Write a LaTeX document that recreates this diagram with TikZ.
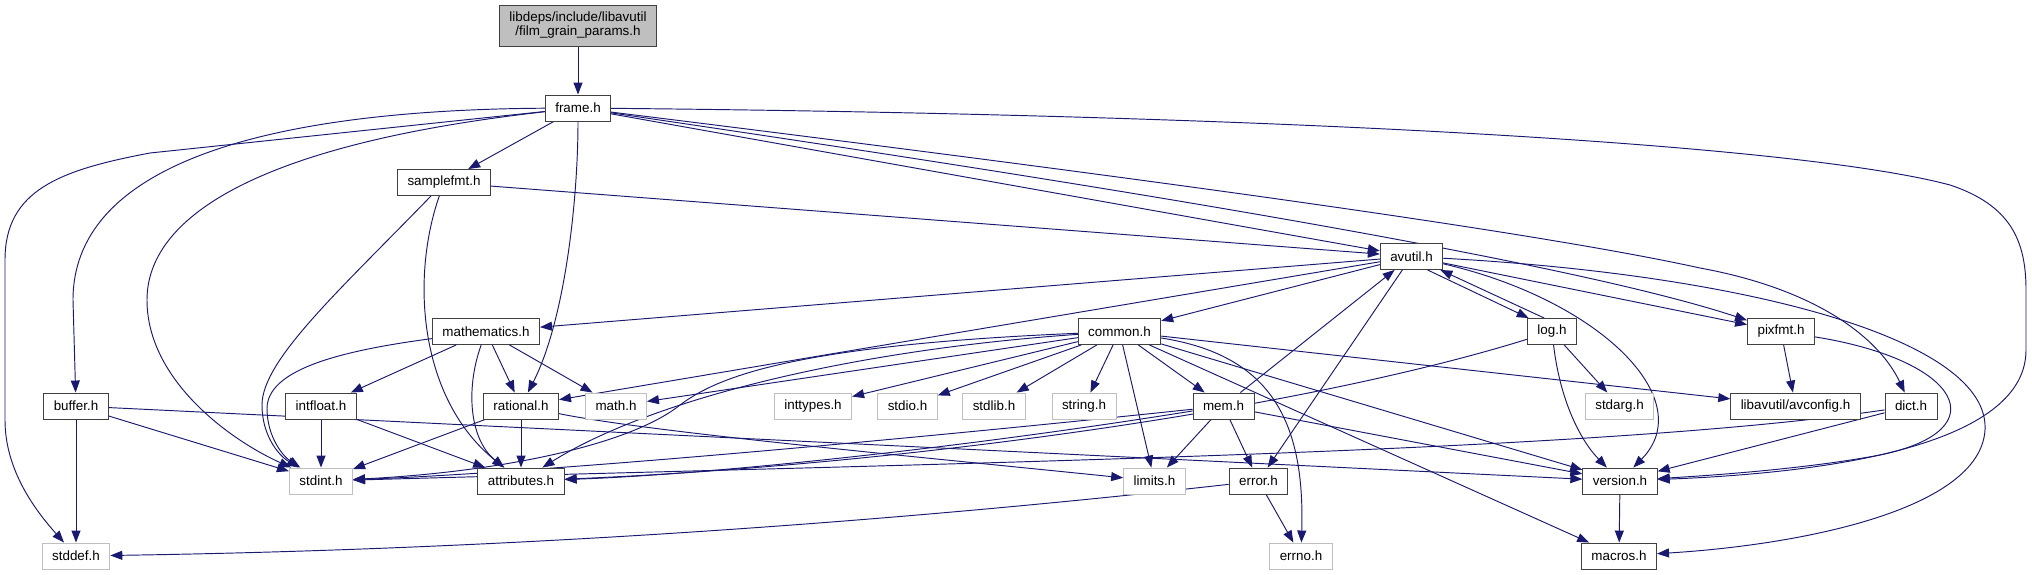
\documentclass[tikz,border=0pt]{standalone}
\usepackage{fontspec}
\setmainfont{Liberation Sans}
\usetikzlibrary{arrows.meta,backgrounds}
\definecolor{bleunuit}{HTML}{191970}
\definecolor{grisclair}{HTML}{BFBFBF}
\definecolor{grisfonce}{HTML}{404040}
\begin{document}
\begin{tikzpicture}[x=1pt,y=-1pt]
			\tikzstyle{fichier}=[draw=grisfonce,line width=0.9pt,fill=white,minimum height=26pt,inner xsep=10pt,inner ysep=0pt,font=\fontsize{13.4}{14}\selectfont]
			\tikzstyle{systeme}=[fichier,draw=grisclair]
			\tikzstyle{racine}=[fichier,fill=grisclair,align=center,minimum height=41pt]
			\tikzstyle{fleche}=[-{Triangle[length=12pt,width=9pt]},draw=bleunuit,line width=0.95pt]
			\def\RangA{25.5}
			\def\RangB{108}
			\def\RangC{182.5}
			\def\RangD{256.5}
			\def\RangE{331.5}
			\def\RangF{406}
			\def\RangG{481}
			\def\RangH{556}
			\useasboundingbox (0,0) rectangle (2032,575);
			% niveaux du graphe
			\node[racine] (film) at (578,\RangA) {libdeps/include/libavutil\\/film\_grain\_params.h};
			\node[fichier] (frame) at (578,\RangB) {frame.h};
			\node[fichier] (samplefmt) at (444,\RangC) {samplefmt.h};
			\node[fichier] (avutil) at (1411.5,\RangD) {avutil.h};
			\node[fichier] (mathematics) at (486,\RangE) {mathematics.h};
			\node[fichier] (common) at (1119.5,\RangE) {common.h};
			\node[fichier] (log) at (1552,\RangE) {log.h};
			\node[fichier] (pixfmt) at (1781,\RangE) {pixfmt.h};
			\node[fichier] (buffer) at (76,\RangF) {buffer.h};
			\node[fichier] (intfloat) at (321,\RangF) {intfloat.h};
			\node[fichier] (rational) at (521,\RangF) {rational.h};
			\node[systeme] (mathh) at (616,\RangF) {math.h};
			\node[systeme] (inttypes) at (813,\RangF) {inttypes.h};
			\node[systeme] (stdio) at (907.5,\RangF) {stdio.h};
			\node[systeme] (stdlib) at (994,\RangF) {stdlib.h};
			\node[systeme] (string) at (1084,\RangF) {string.h};
			\node[fichier] (mem) at (1223.5,\RangF) {mem.h};
			\node[systeme] (stdarg) at (1619.5,\RangF) {stdarg.h};
			\node[fichier] (avconfig) at (1795.5,\RangF) {libavutil/avconfig.h};
			\node[fichier] (dict) at (1911,\RangF) {dict.h};
			\node[systeme] (stdint) at (321,\RangG) {stdint.h};
			\node[fichier] (attributes) at (521,\RangG) {attributes.h};
			\node[systeme] (limits) at (1154.5,\RangG) {limits.h};
			\node[fichier] (error) at (1258.5,\RangG) {error.h};
			\node[fichier] (version) at (1620,\RangG) {version.h};
			\node[systeme] (stddef) at (76,\RangH) {stddef.h};
			\node[systeme] (errno) at (1301,\RangH) {errno.h};
			\node[fichier] (macros) at (1619,\RangH) {macros.h};
			\begin{scope}[on background layer]
			% film_grain_params.h et frame.h
			\draw[fleche] (film)--(frame);
			\draw[fleche] (frame)--(samplefmt);
			\draw[fleche] (frame)--(150,153) .. controls (60,170) and (5,190) .. (5,260)--(5,420) .. controls (5,470) and (35,510) .. (stddef);
			\draw[fleche] (frame) .. controls (250,110) and (73,170) .. (73,300)--(buffer);
			\draw[fleche] (frame) .. controls (250,145) and (147,220) .. (147,300) .. controls (147,380) and (230,440) .. (stdint);
			\draw[fleche] (frame) .. controls (578,200) and (565,320) .. (rational);
			\draw[fleche] (frame)--(avutil);
			\draw[fleche] (frame) .. controls (1000,170) and (1550,255) .. (pixfmt);
			\draw[fleche] (frame) .. controls (1200,185) and (1550,235) .. (1700,268) .. controls (1820,290) and (1880,340) .. (dict);
			\draw[fleche] (frame) .. controls (1300,115) and (1800,145) .. (1950,185) .. controls (2010,205) and (2026,240) .. (2026,290)--(2026,350) .. controls (2026,440) and (1850,472) .. (version);
			% samplefmt.h
			\draw[fleche] (samplefmt)--(avutil);
			\draw[fleche] (samplefmt) .. controls (340,290) and (262,360) .. (262,405) .. controls (262,435) and (278,455) .. (stdint);
			\draw[fleche] (samplefmt) .. controls (410,280) and (420,400) .. (attributes);
			% avutil.h
			\draw[fleche] (avutil)--(mathematics);
			\draw[fleche] (avutil)--(rational);
			\draw[fleche] (avutil)--(common);
			\draw[fleche] (avutil)--(error);
			\draw[fleche] (avutil.-40)--(log.150);
			\draw[fleche] (avutil)--(pixfmt);
			\draw[fleche] (avutil) .. controls (1600,300) and (1700,400) .. (version);
			\draw[fleche] (avutil) .. controls (1750,275) and (1990,340) .. (1985,430) .. controls (1980,510) and (1800,545) .. (macros);
			% log.h, pixfmt.h, dict.h
			\draw[fleche] (log.120)--(avutil.-25);
			\draw[fleche] (log)--(stdarg);
			\draw[fleche] (log) .. controls (1560,400) and (1580,440) .. (version);
			\draw[fleche] (log) .. controls (1300,410) and (900,465) .. (attributes);
			\draw[fleche] (pixfmt)--(avconfig);
			\draw[fleche] (pixfmt) .. controls (1960,360) and (2000,430) .. (1880,455) .. controls (1800,470) and (1700,476) .. (version);
			\draw[fleche] (dict)--(version);
			\draw[fleche] (dict) .. controls (1600,452) and (1000,462) .. (stdint);
			% common.h
			\draw[fleche] (common)--(inttypes);
			\draw[fleche] (common)--(stdio);
			\draw[fleche] (common)--(stdlib);
			\draw[fleche] (common)--(string);
			\draw[fleche] (common)--(mem);
			\draw[fleche] (common)--(limits);
			\draw[fleche] (common)--(mathh);
			\draw[fleche] (common)--(avconfig);
			\draw[fleche] (common)--(version);
			\draw[fleche] (common)--(macros);
			\draw[fleche] (common) .. controls (1270,355) and (1305,420) .. (errno);
			\draw[fleche] (common) .. controls (800,345) and (720,375) .. (680,405) .. controls (630,445) and (500,472) .. (stdint);
			\draw[fleche] (common) .. controls (850,350) and (650,400) .. (attributes);
			% mem.h et error.h
			\draw[fleche] (mem)--(avutil);
			\draw[fleche] (mem)--(limits);
			\draw[fleche] (mem)--(error);
			\draw[fleche] (mem)--(version);
			\draw[fleche] (mem) .. controls (900,440) and (550,472) .. (stdint);
			\draw[fleche] (mem) .. controls (950,450) and (700,475) .. (attributes);
			\draw[fleche] (error)--(errno);
			\draw[fleche] (error) .. controls (1000,510) and (600,548) .. (stddef);
			\draw[fleche] (version)--(macros);
			% mathematics.h, intfloat.h, rational.h, buffer.h
			\draw[fleche] (mathematics)--(intfloat);
			\draw[fleche] (mathematics)--(rational);
			\draw[fleche] (mathematics)--(mathh);
			\draw[fleche] (mathematics) .. controls (330,352) and (268,372) .. (267,408) .. controls (267,438) and (284,457) .. (stdint);
			\draw[fleche] (mathematics) .. controls (465,390) and (470,440) .. (attributes);
			\draw[fleche] (intfloat)--(stdint);
			\draw[fleche] (intfloat)--(attributes);
			\draw[fleche] (rational)--(stdint);
			\draw[fleche] (rational)--(attributes);
			\draw[fleche] (rational) .. controls (650,432) and (900,455) .. (limits);
			\draw[fleche] (buffer)--(stddef);
			\draw[fleche] (buffer)--(stdint);
			\draw[fleche] (buffer)--(version);
			\end{scope}
		\end{tikzpicture}
\end{document}
